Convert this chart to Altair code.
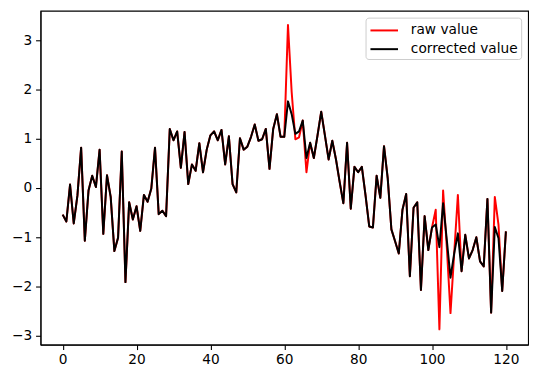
import altair as alt
import pandas as pd

x_index = list(range(121))

corrected = [
    -0.54, -0.68, 0.07, -0.72, -0.15, 0.82, -1.07, -0.05, 0.25, 0.02,
    0.78, -0.93, 0.26, -0.18, -1.28, -1.01, 0.74, -1.91, -0.29, -0.64,
    -0.37, -0.87, -0.14, -0.28, -0.01, 0.82, -0.53, -0.46, -0.57, 1.20,
    0.97, 1.15, 0.41, 1.14, 0.08, 0.48, 0.35, 0.91, 0.32, 0.78,
    1.07, 1.15, 0.97, 1.18, 0.48, 1.05, 0.08, -0.09, 1.01, 0.78,
    0.84, 1.04, 1.29, 0.96, 0.99, 1.20, 0.39, 1.20, 1.50, 1.04,
    1.04, 1.76, 1.50, 1.10, 1.15, 1.37, 0.61, 0.92, 0.61, 1.07,
    1.55, 1.07, 0.58, 0.96, 0.58, 0.12, -0.31, 0.92, -0.42, 0.43,
    0.32, 0.43, -0.15, -0.78, -0.80, 0.25, -0.20, 0.85, 0.20, -0.84,
    -1.08, -1.33, -0.44, -0.12, -1.79, -0.40, -0.29, -2.07, -0.57, -1.26,
    -0.80, -0.74, -1.20, -0.31, -1.05, -1.82, -1.33, -0.92, -1.69, -0.95,
    -1.43, -1.26, -1.00, -1.49, -1.59, -0.22, -2.53, -0.79, -1.02, -2.09,
    -0.88,
]

raw = [
    -0.54, -0.68, 0.07, -0.72, -0.15, 0.82, -1.07, -0.05, 0.25, 0.02,
    0.78, -0.93, 0.26, -0.18, -1.28, -1.01, 0.74, -1.91, -0.29, -0.64,
    -0.37, -0.87, -0.14, -0.28, -0.01, 0.82, -0.53, -0.46, -0.57, 1.20,
    0.97, 1.15, 0.41, 1.14, 0.08, 0.48, 0.35, 0.91, 0.32, 0.78,
    1.07, 1.15, 0.97, 1.18, 0.48, 1.05, 0.08, -0.09, 1.01, 0.78,
    0.84, 1.04, 1.29, 0.96, 0.99, 1.20, 0.39, 1.20, 1.50, 1.04,
    1.04, 3.31, 1.95, 0.99, 1.03, 1.37, 0.32, 0.92, 0.61, 1.07,
    1.55, 1.07, 0.58, 0.96, 0.58, 0.12, -0.31, 0.92, -0.42, 0.43,
    0.32, 0.43, -0.15, -0.78, -0.80, 0.25, -0.20, 0.85, 0.20, -0.84,
    -1.08, -1.33, -0.44, -0.12, -1.79, -0.40, -0.29, -2.07, -0.57, -1.26,
    -0.80, -0.44, -2.87, -0.05, -1.20, -2.54, -1.33, -0.14, -1.69, -0.95,
    -1.43, -1.26, -1.00, -1.49, -1.59, -0.22, -2.53, -0.18, -0.75, -2.09,
    -0.88,
]

series_names = ["raw value", "corrected value"]
series_colors = ["#ff0000", "#000000"]
x_ticks = [0, 20, 40, 60, 80, 100, 120]
y_ticks = [-3, -2, -1, 0, 1, 2, 3]

df = pd.DataFrame({
    "x": x_index + x_index,
    "value": raw + corrected,
    "series": [series_names[0]] * len(raw) + [series_names[1]] * len(corrected),
})

FONT = "DejaVu Sans"
FS = 13.9

x_enc = alt.X(
    "x:Q",
    scale=alt.Scale(domain=[-6, 126], nice=False, zero=False),
    axis=alt.Axis(values=x_ticks, title=None, grid=False, format="d",
                  tickSize=5, tickColor="black", domainColor="black",
                  labelPadding=3, labelFontSize=FS, labelFont=FONT,
                  labelColor="black", tickWidth=1.1, domainWidth=1.1),
)
y_enc = alt.Y(
    "value:Q",
    scale=alt.Scale(domain=[-3.18, 3.6], nice=False, zero=False),
    axis=alt.Axis(values=y_ticks, title=None, grid=False, format="d",
                  tickSize=5, tickColor="black", domainColor="black",
                  labelPadding=4, labelFontSize=FS, labelFont=FONT,
                  labelColor="black", tickWidth=1.1, domainWidth=1.1),
)
color_enc = alt.Color(
    "series:N",
    scale=alt.Scale(domain=series_names, range=series_colors),
    legend=alt.Legend(
        title=None, orient="top-right", offset=7,
        symbolType="M-0.89,0L2.22,0", symbolSize=324, symbolStrokeWidth=2,
        symbolFillColor="transparent",
        labelFontSize=FS, labelFont=FONT, labelColor="black",
        labelOffset=23, rowPadding=2, padding=3,
        strokeColor="#cccccc", fillColor="rgba(255,255,255,0.8)",
        cornerRadius=3,
    ),
)

base = alt.Chart(df)
raw_line = base.transform_filter(alt.datum.series == series_names[0]).mark_line(
    strokeWidth=2, strokeJoin="round").encode(x=x_enc, y=y_enc, color=color_enc)
cor_line = base.transform_filter(alt.datum.series == series_names[1]).mark_line(
    strokeWidth=2, strokeJoin="round").encode(x=x_enc, y=y_enc, color=color_enc)

chart = alt.layer(raw_line, cor_line).properties(
    width=495, height=339,
    autosize=alt.AutoSizeParams(type="none"),
    padding={"left": 33, "top": 0, "right": 4, "bottom": 26},
).configure(background="white").configure_view(stroke="black", strokeWidth=1.1)

chart.save("out.html", embed_options={"renderer": "svg", "actions": False})
